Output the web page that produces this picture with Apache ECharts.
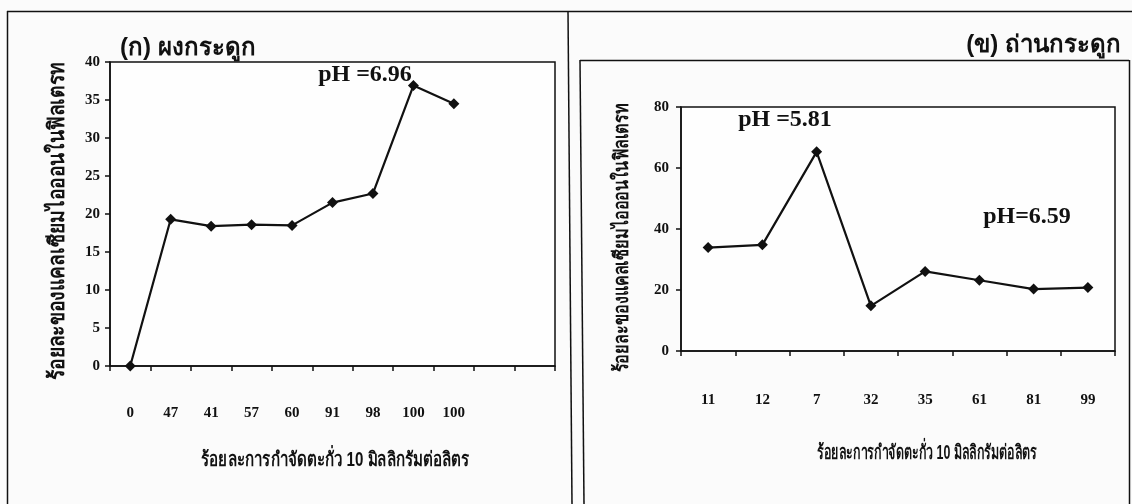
<!DOCTYPE html>
<html>
<head>
<meta charset="utf-8">
<script src="https://cdn.jsdelivr.net/npm/echarts@6/dist/echarts.min.js"></script>
<style>
  html, body { margin: 0; padding: 0; background: #fbfbfb; }
  #chart { width: 1132px; height: 504px; }
</style>
</head>
<body>
<div id="chart"></div>
<script>
// Panel (ก): bone powder
const boneCategories = ['0', '47', '41', '57', '60', '91', '98', '100', '100', '', ''];
const boneValues = [0, 19.3, 18.4, 18.6, 18.5, 21.5, 22.7, 36.9, 34.5];
const boneTicks = [0, 5, 10, 15, 20, 25, 30, 35, 40];

// Panel (ข): bone char
const charCategories = ['11', '12', '7', '32', '35', '61', '81', '99'];
const charValues = [33.9, 34.8, 65.3, 14.8, 26.1, 23.2, 20.3, 20.8];
const charTicks = [0, 20, 40, 60, 80];

const titleBone = '(ก) ผงกระดูก';
const titleChar = '(ข) ถ่านกระดูก';
const yTitle = 'ร้อยละของแคลเซียมไอออนในฟิลเตรท';
const xTitle = 'ร้อยละการกำจัดตะกั่ว 10 มิลลิกรัมต่อลิตร';
const phBone = 'pH =6.96';
const phCharLow = 'pH =5.81';
const phCharHigh = 'pH=6.59';

const INK = '#111';
const sans = '"Liberation Sans", "DejaVu Sans", sans-serif';
const serif = '"Liberation Serif", "DejaVu Serif", serif';

const chart = echarts.init(document.getElementById('chart'), null, { renderer: 'canvas' });

function valueAxis(gridIndex, ticks, labelMargin) {
  return {
    type: 'value', gridIndex,
    min: ticks[0], max: ticks[ticks.length - 1], interval: ticks[1] - ticks[0],
    axisLine: { show: true, lineStyle: { color: INK, width: 1.5 } },
    axisTick: { show: true, inside: false, length: 5, lineStyle: { color: INK, width: 1.5 } },
    splitLine: { show: false },
    axisLabel: { color: INK, fontFamily: serif, fontWeight: 'bold', fontSize: 15, margin: labelMargin }
  };
}

function categoryAxis(gridIndex, cats, labelMargin) {
  return {
    type: 'category', gridIndex, data: cats, boundaryGap: true,
    axisLine: { show: true, lineStyle: { color: INK, width: 1.5 } },
    axisTick: { show: true, inside: false, length: 5, alignWithLabel: false, interval: 0, lineStyle: { color: INK, width: 1.5 } },
    axisLabel: { color: INK, fontFamily: serif, fontWeight: 'bold', fontSize: 15, margin: labelMargin, interval: 0 },
    splitLine: { show: false }
  };
}

function lineSeries(i, values) {
  return {
    type: 'line', xAxisIndex: i, yAxisIndex: i, data: values,
    symbol: 'diamond', symbolSize: 11, showSymbol: true,
    lineStyle: { color: INK, width: 2.2 },
    itemStyle: { color: INK },
    animation: false
  };
}

function text(x, y, str, opts) {
  return Object.assign({
    type: 'text', x, y, silent: true,
    style: Object.assign({ text: str, fill: INK, textAlign: 'center', textVerticalAlign: 'middle' }, opts.style || {})
  }, opts.el || {});
}

function line(x1, y1, x2, y2) {
  return { type: 'line', silent: true, shape: { x1, y1, x2, y2 }, style: { stroke: INK, lineWidth: 1.5 } };
}

const thaiBold = (size) => ({ font: 'bold ' + size + 'px ' + sans });

chart.setOption({
  backgroundColor: '#fbfbfb',
  animation: false,
  grid: [
    { left: 110, top: 62, width: 445, height: 304, show: true, borderColor: INK, borderWidth: 1.5, backgroundColor: '#fefefe' },
    { left: 681, top: 107, width: 434, height: 244, show: true, borderColor: INK, borderWidth: 1.5, backgroundColor: '#fefefe' }
  ],
  xAxis: [categoryAxis(0, boneCategories, 40), categoryAxis(1, charCategories, 42)],
  yAxis: [valueAxis(0, boneTicks, 10), valueAxis(1, charTicks, 12)],
  series: [lineSeries(0, boneValues), lineSeries(1, charValues)],
  graphic: [
    // frames around the two panels
    line(7, 11.5, 1132, 11.5),
    line(7.5, 11, 7.5, 504),
    line(568, 11, 572, 504),
    line(580, 60, 584, 504),
    line(580, 60.5, 1129, 60.5),
    line(1129.5, 60, 1129.5, 504),
    // panel titles
    text(120, 48, titleBone, { style: Object.assign({ textAlign: 'left' }, thaiBold(24)) }),
    text(1121, 45, titleChar, { style: Object.assign({ textAlign: 'right' }, thaiBold(24)) }),
    // axis titles, set in a condensed bold face
    text(58, 221, yTitle, { style: thaiBold(22), el: { rotation: Math.PI / 2, scaleX: 0.875 } }),
    text(622, 238, yTitle, { style: thaiBold(20), el: { rotation: Math.PI / 2, scaleX: 0.81 } }),
    text(335, 460, xTitle, { style: thaiBold(20), el: { scaleX: 0.756 } }),
    text(927, 453, xTitle, { style: thaiBold(20), el: { scaleX: 0.62 } }),
    // pH annotations
    text(365, 75, phBone, { style: { font: 'bold 24px ' + serif } }),
    text(785, 120, phCharLow, { style: { font: 'bold 24px ' + serif } }),
    text(1027, 217, phCharHigh, { style: { font: 'bold 24px ' + serif } })
  ]
});
</script>
</body>
</html>
